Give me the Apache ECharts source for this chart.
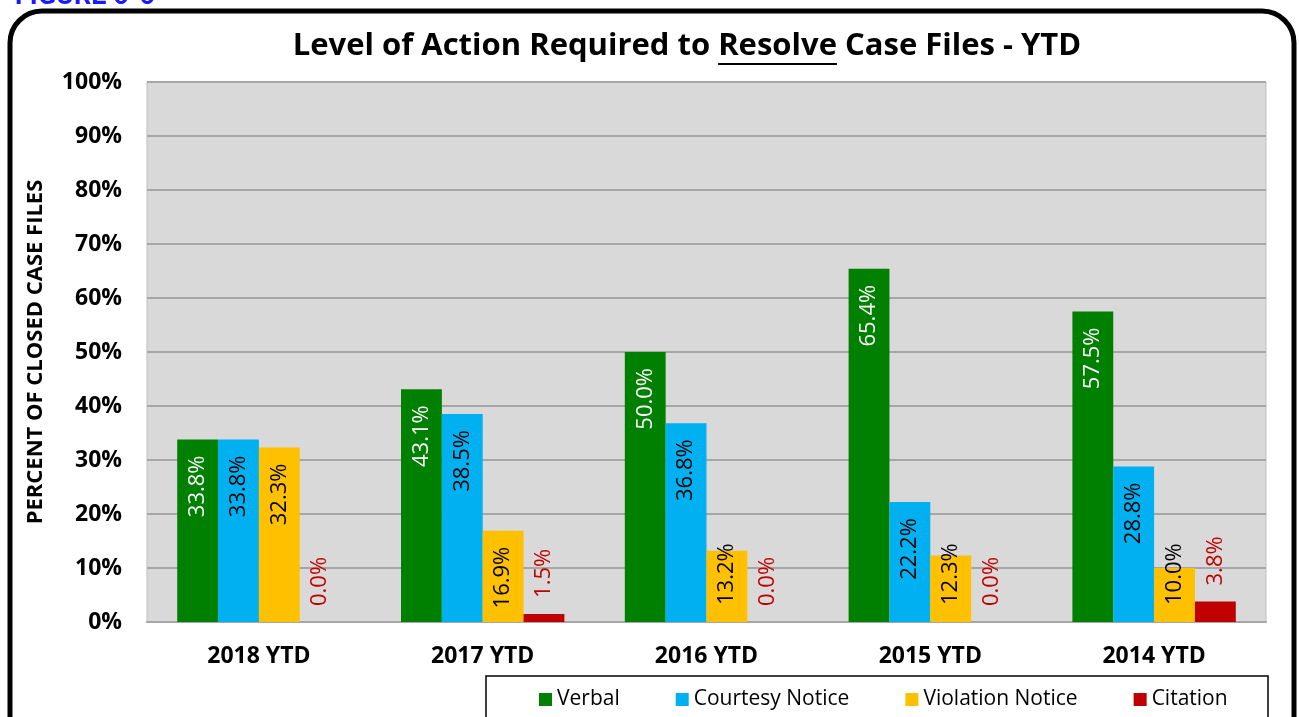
<!DOCTYPE html>
<html lang="en">
<head>
    <meta charset="UTF-8">
    <title>Level of Action Required to Resolve Case Files - YTD</title>
    <script src="https://cdn.jsdelivr.net/npm/echarts@6.0.0/dist/echarts.min.js"></script>
    <style>
        * { margin: 0; padding: 0; box-sizing: border-box; }
        html, body { width: 100%; height: 100%; overflow: hidden; background: #fff; }
        #chart { width: 1299px; height: 717px; }
    </style>
</head>
<body>
    <div id="chart"></div>
    <script>
        // data
        const categories = ['2018 YTD', '2017 YTD', '2016 YTD', '2015 YTD', '2014 YTD'];
        const seriesNames = ['Verbal', 'Courtesy Notice', 'Violation Notice', 'Citation'];
        const verbal = [33.8, 43.1, 50.0, 65.4, 57.5];
        const courtesyNotice = [33.8, 38.5, 36.8, 22.2, 28.8];
        const violationNotice = [32.3, 16.9, 13.2, 12.3, 10.0];
        const citation = [0.0, 1.5, 0.0, 0.0, 3.8];
        const yTicks = [0, 10, 20, 30, 40, 50, 60, 70, 80, 90, 100];

        const FONT = '"Open Sans", Roboto, sans-serif';
        const colors = ['#008000', '#00b0f0', '#ffc000', '#c00000'];
        const labelColors = ['#ffffff', '#000000', '#000000', '#c00000'];

        const fmt = v => v.toFixed(1) + '%';

        // inside-top labels that would run past the axis get pushed to the bottom (like Excel does)
        function insideData(values) {
            return values.map(v => {
                if (v < 14) {
                    return { value: v, label: { position: 'insideBottom', align: 'left', distance: 17 } };
                }
                return v;
            });
        }

        function barSeries(i, values) {
            const s = {
                name: seriesNames[i],
                type: 'bar',
                barGap: '0%',
                barCategoryGap: '27%',
                itemStyle: { color: colors[i] },
                data: insideData(values),
                label: {
                    show: true,
                    position: 'insideTop',
                    rotate: 90,
                    align: 'right',
                    verticalAlign: 'middle',
                    distance: 16,
                    color: labelColors[i],
                    fontFamily: FONT,
                    fontSize: 22,
                    formatter: p => fmt(p.value)
                }
            };
            if (i === 3) {
                s.data = values.slice();
                s.label.position = 'top';
                s.label.align = 'left';
            }
            return s;
        }

        // measure title pieces so "Resolve" can be underlined
        const titleFont = 'bold 31px "Open Sans"';
        const ctx = document.createElement('canvas').getContext('2d');
        ctx.font = titleFont;
        const tA = 'Level of Action Required to ', tU = 'Resolve', tB = ' Case Files - YTD';
        const wA = ctx.measureText(tA).width, wU = ctx.measureText(tU).width, wB = ctx.measureText(tB).width;
        const titleCx = 687, titleY = 46;
        const tx0 = titleCx - (wA + wU + wB) / 2;

        const chart = echarts.init(document.getElementById('chart'));
        chart.setOption({
            animation: false,
            textStyle: { fontFamily: FONT },
            grid: {
                left: 147, right: 33, top: 82, bottom: 95,
                show: true,
                backgroundColor: '#d9d9d9',
                borderColor: '#bfbfbf',
                borderWidth: 1
            },
            legend: {
                left: 534, top: 684,
                itemWidth: 13, itemHeight: 13, itemGap: 56,
                icon: 'rect',
                textStyle: { fontFamily: FONT, fontSize: 21, color: '#000' },
                data: seriesNames
            },
            xAxis: {
                type: 'category',
                data: categories,
                axisTick: { show: false },
                axisLine: { lineStyle: { color: '#a6a6a6', width: 2 } },
                axisLabel: { fontFamily: FONT, fontWeight: 'bold', fontSize: 23, color: '#000', margin: 23 }
            },
            yAxis: {
                type: 'value',
                min: yTicks[0], max: yTicks[yTicks.length - 1], interval: 10,
                name: 'PERCENT OF CLOSED CASE FILES',
                nameLocation: 'middle',
                nameGap: 100,
                nameTextStyle: { fontFamily: FONT, fontWeight: 'bold', fontSize: 22, color: '#000' },
                axisLine: { show: false },
                axisTick: { show: false },
                splitLine: { lineStyle: { color: '#a6a6a6', width: 2 } },
                axisLabel: { fontFamily: FONT, fontWeight: 'bold', fontSize: 23, color: '#000', margin: 25, formatter: '{value}%' }
            },
            series: [
                barSeries(0, verbal),
                barSeries(1, courtesyNotice),
                barSeries(2, violationNotice),
                barSeries(3, citation)
            ],
            graphic: [
                {
                    type: 'rect', silent: true, z: -1,
                    shape: { x: 10, y: 11, width: 1284, height: 760, r: 32 },
                    style: { fill: null, stroke: '#000', lineWidth: 5 }
                },
                {
                    type: 'text', left: 15, top: -16,
                    style: { text: 'FIGURE 6-6', font: 'bold 27px Roboto', fill: '#1a1aff' }
                },
                {
                    type: 'text', x: tx0, y: titleY,
                    style: { text: tA + tU + tB, font: titleFont, fill: '#000', textAlign: 'left', textVerticalAlign: 'middle' }
                },
                {
                    type: 'line',
                    shape: { x1: tx0 + wA, y1: titleY + 18, x2: tx0 + wA + wU, y2: titleY + 18 },
                    style: { stroke: '#000', lineWidth: 2 }
                },
                {
                    type: 'rect', silent: true, z: -1,
                    shape: { x: 486, y: 676, width: 782, height: 60 },
                    style: { fill: '#fff', stroke: '#000', lineWidth: 1.5 }
                }
            ]
        });
    </script>
</body>
</html>
